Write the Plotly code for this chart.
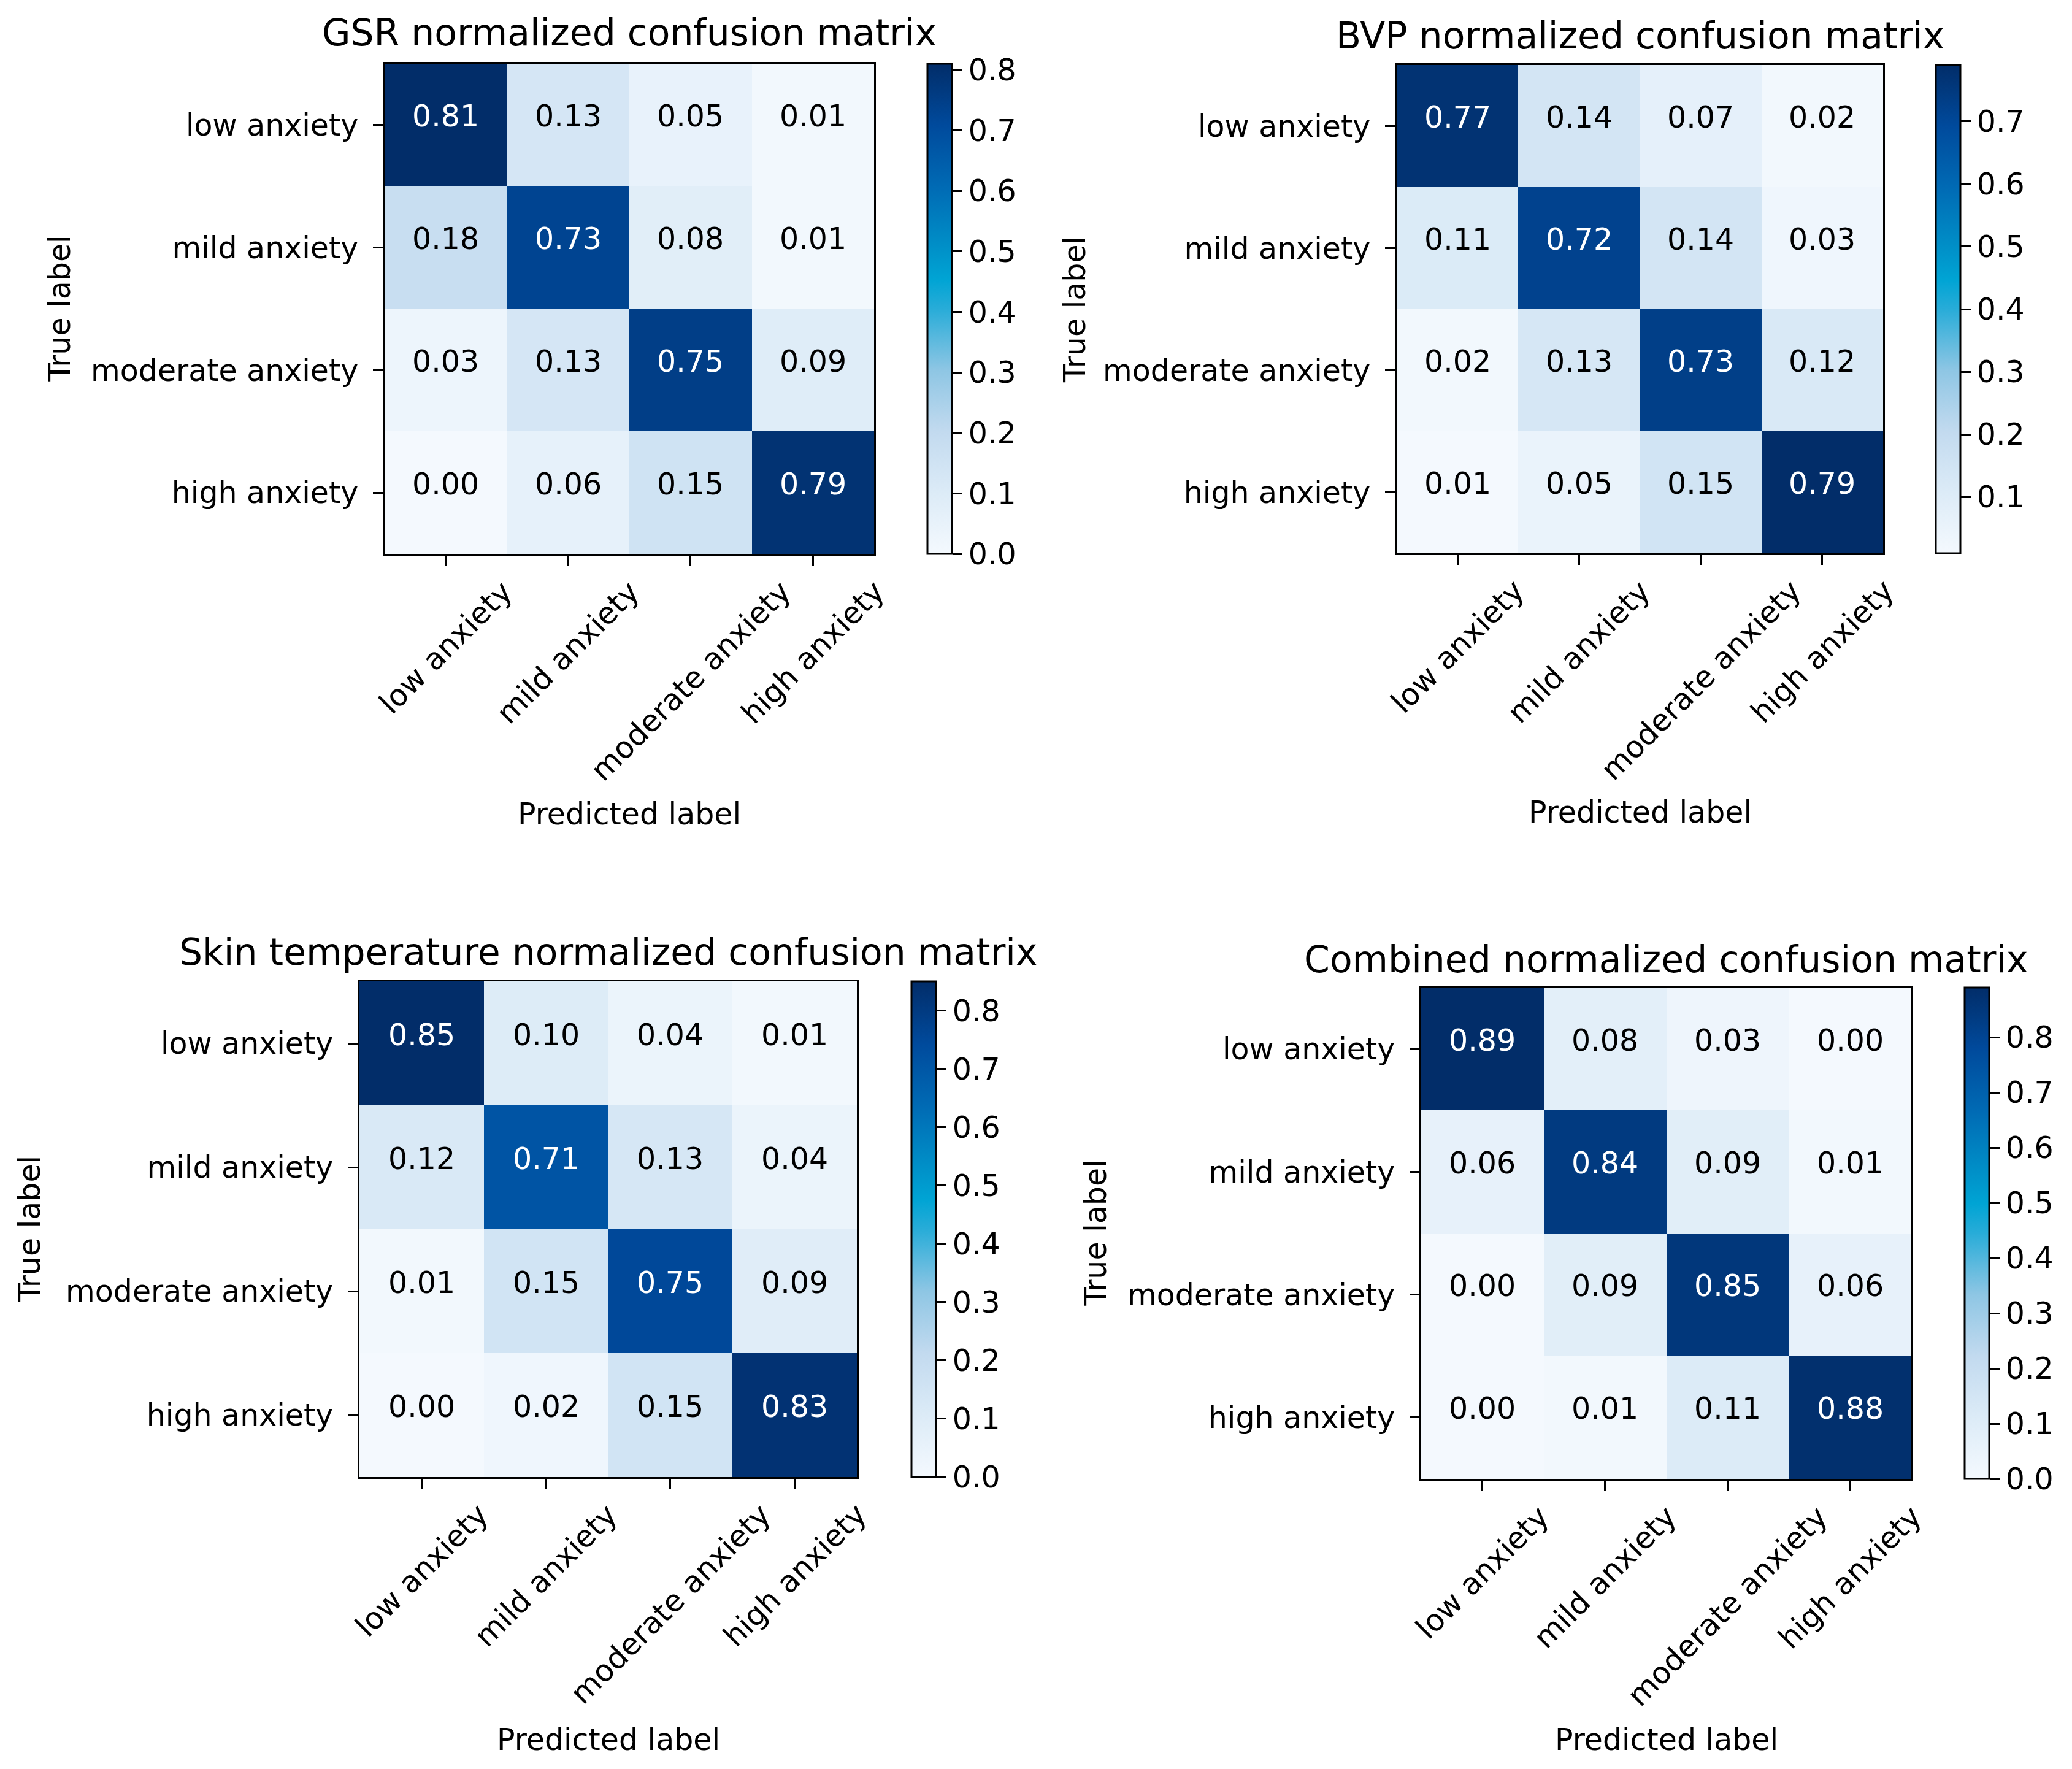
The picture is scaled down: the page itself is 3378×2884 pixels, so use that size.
import plotly.graph_objects as go

W, H = 3378, 2884

classes = ["low anxiety", "mild anxiety", "moderate anxiety", "high anxiety"]

gsr = [[0.81, 0.13, 0.05, 0.01],
       [0.18, 0.73, 0.08, 0.01],
       [0.03, 0.13, 0.75, 0.09],
       [0.00, 0.06, 0.15, 0.79]]

bvp = [[0.77, 0.14, 0.07, 0.02],
       [0.11, 0.72, 0.14, 0.03],
       [0.02, 0.13, 0.73, 0.12],
       [0.01, 0.05, 0.15, 0.79]]

skin = [[0.85, 0.10, 0.04, 0.01],
        [0.12, 0.71, 0.13, 0.04],
        [0.01, 0.15, 0.75, 0.09],
        [0.00, 0.02, 0.15, 0.83]]

combined = [[0.89, 0.08, 0.03, 0.00],
            [0.06, 0.84, 0.09, 0.01],
            [0.00, 0.09, 0.85, 0.06],
            [0.00, 0.01, 0.11, 0.88]]

titles = ["GSR normalized confusion matrix",
          "BVP normalized confusion matrix",
          "Skin temperature normalized confusion matrix",
          "Combined normalized confusion matrix"]

matrices = [gsr, bvp, skin, combined]

# pixel boxes of each panel: heatmap (x0, x1, y0, y1), colorbar (x0, x1),
# title y, "True label" x, "Predicted label" y
panels = [
    dict(heat=(627, 1425, 104, 903), cb=(1512, 1552), title_y=53, ylab_x=97, xlab_y=1327),
    dict(heat=(2277, 3070, 106, 902), cb=(3156, 3196), title_y=58, ylab_x=1752, xlab_y=1324),
    dict(heat=(586, 1397, 1600, 2408), cb=(1486, 1526), title_y=1552, ylab_x=48, xlab_y=2836),
    dict(heat=(2317, 3116, 1610, 2411), cb=(3203, 3243), title_y=1564, ylab_x=1786, xlab_y=2836),
]

# matplotlib "Blues", as it looks in the picture (a bit more cyan in the middle)
blues = [[0.0, "#f4f9fe"], [0.125, "#dcebf7"], [0.25, "#c2daef"],
         [0.375, "#8ec6e4"], [0.5, "#28acd8"], [0.56, "#00a4d4"],
         [0.625, "#0090c8"], [0.75, "#006ab4"], [0.875, "#004a9c"],
         [1.0, "#022d69"]]

FONT = "DejaVu Sans"
TICK = 49
TITLE = 60

fig = go.Figure()
annotations = []
layout = {}

for k, (z, title, p) in enumerate(zip(matrices, titles, panels)):
    n = "" if k == 0 else str(k + 1)
    hx0, hx1, hy0, hy1 = p["heat"]
    cx0, cx1 = p["cb"]
    zmin = min(min(r) for r in z)
    zmax = max(max(r) for r in z)

    fig.add_trace(go.Heatmap(
        z=z, x=list(range(4)), y=list(range(4)),
        xaxis="x" + n, yaxis="y" + n,
        colorscale=blues, zmin=zmin, zmax=zmax,
        colorbar=dict(
            x=cx0 / W, xref="paper", xanchor="left", xpad=0,
            y=1 - hy0 / H, yref="paper", yanchor="top", ypad=0,
            len=(hy1 - hy0) / H, lenmode="fraction",
            thickness=cx1 - cx0, thicknessmode="pixels",
            outlinewidth=3, outlinecolor="black",
            ticks="outside", ticklen=16, tickwidth=3, tickcolor="black",
            tick0=0, dtick=0.1, tickformat=".1f",
            tickfont=dict(family=FONT, size=TICK, color="black"),
        ),
        hoverinfo="skip",
    ))

    axis_common = dict(showgrid=False, zeroline=False, showline=True, mirror=True,
                       linecolor="black", linewidth=3, ticks="outside",
                       ticklen=16, tickwidth=3, tickcolor="black", fixedrange=True)
    layout["xaxis" + n] = dict(domain=[hx0 / W, hx1 / W], anchor="y" + n,
                               range=[-0.5, 3.5], tickvals=list(range(4)),
                               showticklabels=False, **axis_common)
    layout["yaxis" + n] = dict(domain=[1 - hy1 / H, 1 - hy0 / H], anchor="x" + n,
                               range=[3.5, -0.5], tickvals=list(range(4)),
                               ticktext=classes, ticklabelstandoff=14,
                               tickfont=dict(family=FONT, size=TICK, color="black"),
                               **axis_common)

    # cell values
    for i, row in enumerate(z):
        for j, v in enumerate(row):
            annotations.append(dict(
                x=j, y=i, xref="x" + n, yref="y" + n, text=f"{v:.2f}",
                showarrow=False, yshift=14,
                font=dict(family=FONT, size=TICK,
                          color="white" if v > zmax / 2 else "black")))

    # rotated x tick labels, centred under each tick like matplotlib
    for j, c in enumerate(classes):
        annotations.append(dict(
            x=j, y=0, xref="x" + n, yref="y" + n + " domain", text=c,
            showarrow=False, textangle=-45, xanchor="center", yanchor="top",
            yshift=-30, font=dict(family=FONT, size=TICK, color="black")))

    xc = (hx0 + hx1) / 2 / W
    yc = 1 - (hy0 + hy1) / 2 / H
    annotations.append(dict(x=xc, y=1 - p["title_y"] / H, xref="paper", yref="paper",
                            text=title, showarrow=False, xanchor="center",
                            yanchor="middle",
                            font=dict(family=FONT, size=TITLE, color="black")))
    annotations.append(dict(x=p["ylab_x"] / W, y=yc, xref="paper", yref="paper",
                            text="True label", showarrow=False, textangle=-90,
                            xanchor="center", yanchor="middle",
                            font=dict(family=FONT, size=TICK, color="black")))
    annotations.append(dict(x=xc, y=1 - p["xlab_y"] / H, xref="paper", yref="paper",
                            text="Predicted label", showarrow=False,
                            xanchor="center", yanchor="middle",
                            font=dict(family=FONT, size=TICK, color="black")))

fig.update_layout(
    width=W, height=H,
    margin=dict(l=0, r=0, t=0, b=0),
    paper_bgcolor="white", plot_bgcolor="white",
    showlegend=False,
    annotations=annotations,
    **layout,
)

# the page body has a default 8px margin; drop it so the figure fills the window
fig.write_html("out.html", config={"displayModeBar": False},
               post_script="document.body.style.margin = '0';")
